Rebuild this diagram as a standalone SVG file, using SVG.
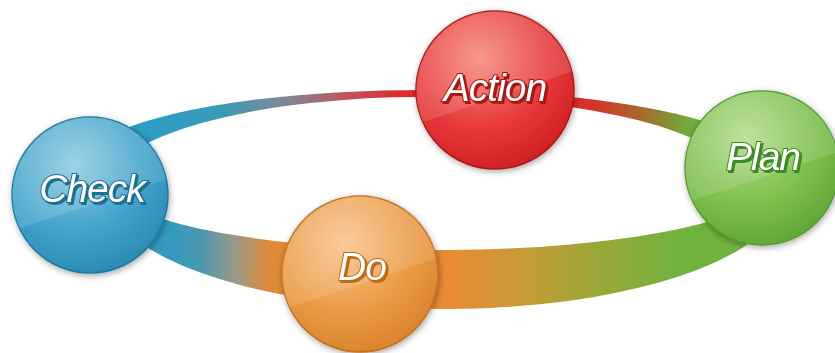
<svg xmlns="http://www.w3.org/2000/svg" width="835" height="353" viewBox="0 0 835 353">
<defs>
<style>
.lbl{font-family:"Liberation Sans",Arial,sans-serif;font-style:italic;font-size:39px;text-anchor:middle;letter-spacing:-1px;fill:#ffffff;stroke-width:2;paint-order:stroke}
.rim{stroke-width:1.5}
.gloss{fill:#ffffff;opacity:0.13}
</style>
<filter id="sh" x="-20%" y="-20%" width="140%" height="140%">
<feDropShadow dx="1" dy="2" stdDeviation="3" flood-color="#000000" flood-opacity="0.35"/>
</filter>
<filter id="tR" x="-10%" y="-20%" width="130%" height="150%"><feDropShadow dx="2" dy="2" stdDeviation="0.6" flood-color="#a81818" flood-opacity="1"/></filter>
<filter id="tB" x="-10%" y="-20%" width="130%" height="150%"><feDropShadow dx="2" dy="2" stdDeviation="0.6" flood-color="#1c6f90" flood-opacity="1"/></filter>
<filter id="tG" x="-10%" y="-20%" width="130%" height="150%"><feDropShadow dx="2" dy="2" stdDeviation="0.6" flood-color="#3f8a22" flood-opacity="1"/></filter>
<filter id="tO" x="-10%" y="-20%" width="130%" height="150%"><feDropShadow dx="2" dy="2" stdDeviation="0.6" flood-color="#c06a18" flood-opacity="1"/></filter>
<linearGradient id="gTop" gradientUnits="userSpaceOnUse" x1="120" y1="0" x2="740" y2="0">
<stop offset="0.048" stop-color="#2d9ec4"/>
<stop offset="0.161" stop-color="#3a9ab8"/>
<stop offset="0.258" stop-color="#7a8a98"/>
<stop offset="0.355" stop-color="#b85a60"/>
<stop offset="0.452" stop-color="#df2a2e"/>
<stop offset="0.758" stop-color="#d9302a"/>
<stop offset="0.839" stop-color="#a8682c"/>
<stop offset="0.919" stop-color="#6fae3c"/>
</linearGradient>
<linearGradient id="gBot" gradientUnits="userSpaceOnUse" x1="120" y1="0" x2="765" y2="0">
<stop offset="0.078" stop-color="#3399bf"/>
<stop offset="0.124" stop-color="#4a98b0"/>
<stop offset="0.178" stop-color="#9a9a88"/>
<stop offset="0.233" stop-color="#e08a38"/>
<stop offset="0.512" stop-color="#e88c34"/>
<stop offset="0.62" stop-color="#c89a34"/>
<stop offset="0.744" stop-color="#98a838"/>
<stop offset="0.868" stop-color="#70b23e"/>
</linearGradient>
<radialGradient id="gRed" cx="0.4" cy="0.3" r="0.75">
<stop offset="0" stop-color="#f58a7a"/>
<stop offset="0.6" stop-color="#e8383a"/>
<stop offset="1" stop-color="#cc1f22"/>
</radialGradient>
<radialGradient id="gBlue" cx="0.4" cy="0.3" r="0.75">
<stop offset="0" stop-color="#8fcbe2"/>
<stop offset="0.6" stop-color="#3fa3cb"/>
<stop offset="1" stop-color="#2a88b0"/>
</radialGradient>
<radialGradient id="gGreen" cx="0.4" cy="0.3" r="0.75">
<stop offset="0" stop-color="#b5dc90"/>
<stop offset="0.6" stop-color="#7dbf4c"/>
<stop offset="1" stop-color="#5ea535"/>
</radialGradient>
<radialGradient id="gOrange" cx="0.4" cy="0.3" r="0.75">
<stop offset="0" stop-color="#f8c48e"/>
<stop offset="0.6" stop-color="#eb9a44"/>
<stop offset="1" stop-color="#d8822a"/>
</radialGradient>
<clipPath id="cA"><circle cx="495" cy="90" r="79"/></clipPath>
<clipPath id="cC"><circle cx="90" cy="195" r="78"/></clipPath>
<clipPath id="cP"><circle cx="762" cy="168" r="77"/></clipPath>
<clipPath id="cD"><circle cx="360" cy="274" r="78"/></clipPath>
</defs>
<rect width="835" height="353" fill="#ffffff"/>
<g id="connectors">
<path d="M120,130.7 A340,73 0 0,1 740,135.5 L740,172.8 A320,92 0 0,0 120,161 Z" fill="url(#gTop)"/>
<path d="M120,225 A340,119 0 0,0 765,230.2 L765,193.8 A330,68 0 0,1 120,198.6 Z" fill="url(#gBot)"/>
</g>
<g id="action">
<circle cx="495" cy="90" r="79" fill="url(#gRed)" stroke="#b01818" class="rim" filter="url(#sh)"/>
<path d="M400,130 L600,62 L600,0 L400,0 Z" class="gloss" clip-path="url(#cA)"/>
<text x="495" y="101" class="lbl" stroke="#a81818" filter="url(#tR)">Action</text>
</g>
<g id="check">
<circle cx="90" cy="195" r="78" fill="url(#gBlue)" stroke="#1f7aa0" class="rim" filter="url(#sh)"/>
<path d="M0,235 L180,175 L180,100 L0,100 Z" class="gloss" clip-path="url(#cC)"/>
<text x="92" y="202" class="lbl" stroke="#1c6f90" filter="url(#tB)">Check</text>
</g>
<g id="plan">
<circle cx="762" cy="168" r="77" fill="url(#gGreen)" stroke="#4f9a2c" class="rim" filter="url(#sh)"/>
<path d="M670,208 L850,148 L850,80 L670,80 Z" class="gloss" clip-path="url(#cP)"/>
<text x="763" y="170" class="lbl" stroke="#3f8a22" filter="url(#tG)">Plan</text>
</g>
<g id="do">
<circle cx="360" cy="274" r="78" fill="url(#gOrange)" stroke="#c47020" class="rim" filter="url(#sh)"/>
<path d="M270,314 L450,254 L450,190 L270,190 Z" class="gloss" clip-path="url(#cD)"/>
<text x="362" y="280" class="lbl" stroke="#c06a18" filter="url(#tO)">Do</text>
</g>
</svg>
